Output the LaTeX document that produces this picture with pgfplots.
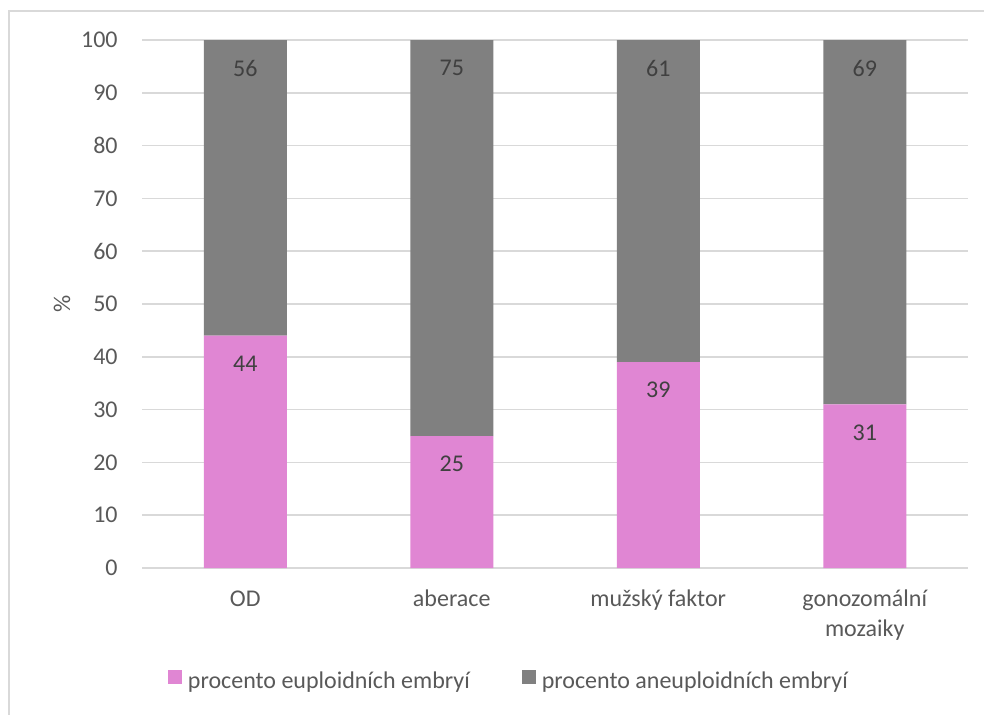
\documentclass[border=0pt]{standalone}
\usepackage{fontspec}
\setmainfont{Carlito}
\usepackage{pgfplots}
\usepackage{pgfplotstable}
\pgfplotsset{compat=1.18}

\definecolor{euplo}{RGB}{224,134,211}
\definecolor{aneuplo}{RGB}{128,128,128}
\definecolor{gridcol}{RGB}{217,217,217}
\definecolor{ticktext}{RGB}{89,89,89}
\definecolor{labeltext}{RGB}{64,64,64}

\newcommand{\chartfont}{\fontsize{12}{15}\selectfont}

% per-group percentages of euploid and aneuploid embryos
\pgfplotstableread{
x  eu  an
0  44  56
1  25  75
2  39  61
3  31  69
}\embryos

\begin{document}
\begin{tikzpicture}
  % overall canvas and chart frame
  \path[use as bounding box] (0,0) rectangle (492pt,357pt);
  \draw[gridcol, line width=0.75pt] (4.5pt,-2pt) -- (4.5pt,351.5pt) -- (494pt,351.5pt);

  \begin{axis}[
    at={(71pt,73pt)}, anchor=south west,
    scale only axis,
    width=413pt, height=264pt,
    ybar stacked,
    bar width=41.5pt,
    xmin=-0.5, xmax=3.5,
    ymin=0, ymax=100,
    ytick={0,10,...,100},
    xtick={0,1,2,3},
    xticklabels={OD, aberace, mužský faktor,
      {\begin{tabular}[t]{@{}c@{}}gonozomální\\mozaiky\end{tabular}}},
    axis line style={draw=none},
    major tick length=0pt,
    tick style={draw=none},
    ymajorgrids,
    grid style={gridcol, line width=0.75pt},
    /pgf/number format/assume math mode=true,
    ticklabel style={font=\chartfont, text=ticktext},
    yticklabel style={anchor=east, inner sep=0pt, xshift=-12pt},
    xticklabel style={anchor=north, inner sep=0pt,
                      text height=7.6pt, yshift=-11.3pt},
    ylabel={\%},
    ylabel style={at={(axis description cs:-0.0969,0.5)}, rotate=0,
                  anchor=center, font=\chartfont, text=ticktext},
    nodes near coords,
    % labels sit near the top of each segment (nodes start at the segment middle)
    every node near coord/.append style={anchor=center, yshift=\lshift pt,
                  font=\chartfont, text=labeltext},
    legend columns=2,
    legend style={
      at={(axis description cs:0.443,-0.214)}, anchor=center,
      draw=none, fill=none,
      font=\chartfont, text=ticktext,
      nodes={inner sep=0pt},
      /tikz/every even column/.append style={column sep=26pt},
      /tikz/every odd column/.append style={column sep=3pt},
    },
    legend image code/.code={\fill[#1] (0pt,-1pt) rectangle (7pt,6pt);},
  ]
    \addplot+[draw=none, fill=euplo,
      visualization depends on={\thisrow{eu}*1.32-14 \as \lshift}]
      table[x=x, y=eu, meta=eu] {\embryos};
    \addplot+[draw=none, fill=aneuplo,
      visualization depends on={\thisrow{an}*1.32-14 \as \lshift}]
      table[x=x, y=an, meta=an] {\embryos};
    \legend{procento euploidních embryí, procento aneuploidních embryí}
  \end{axis}
\end{tikzpicture}
\end{document}
